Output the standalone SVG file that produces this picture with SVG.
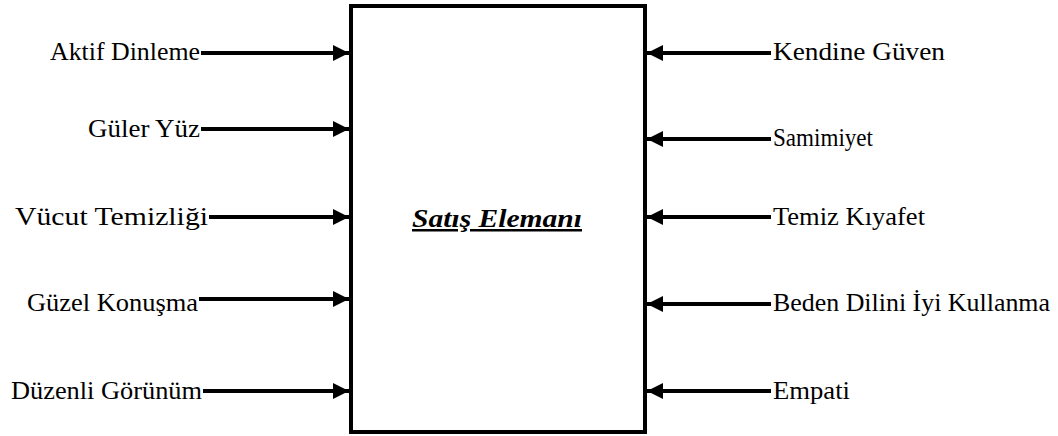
<svg xmlns="http://www.w3.org/2000/svg" width="1058" height="436" viewBox="0 0 1058 436">
<defs>
<style>
.lbl{font-family:"Times New Roman",Times,"Liberation Serif",Tinos,"Noto Serif","DejaVu Serif",FreeSerif,serif;font-size:25px;fill:#000}
.conn{stroke:#000;stroke-width:4;fill:none}
.title{font-family:"Times New Roman",Times,"Liberation Serif",Tinos,"Noto Serif","DejaVu Serif",FreeSerif,serif;font-size:25px;font-weight:bold;font-style:italic;text-decoration:underline;fill:#000}
</style>
<marker id="ah" markerUnits="userSpaceOnUse" markerWidth="16" markerHeight="16" viewBox="0 0 14 14" refX="14" refY="7" orient="auto">
<path d="M0,0 L14,7 L0,14 Z" fill="#000"/>
</marker>
</defs>
<rect width="1058" height="436" fill="#fff"/>
<g id="box">
<rect x="351" y="6" width="294" height="426" fill="#fff" stroke="#000" stroke-width="4"/>
<text class="title" x="497" y="227" text-anchor="middle" textLength="170" lengthAdjust="spacingAndGlyphs">Satış Elemanı</text>
</g>
<g id="connectors">
<line class="conn" x1="201" y1="53" x2="349" y2="53" marker-end="url(#ah)"/>
<line class="conn" x1="201" y1="129" x2="349" y2="129" marker-end="url(#ah)"/>
<line class="conn" x1="209" y1="217" x2="349" y2="217" marker-end="url(#ah)"/>
<line class="conn" x1="199" y1="299" x2="349" y2="299" marker-end="url(#ah)"/>
<line class="conn" x1="203" y1="391" x2="349" y2="391" marker-end="url(#ah)"/>
<line class="conn" x1="771" y1="53" x2="647" y2="53" marker-end="url(#ah)"/>
<line class="conn" x1="771" y1="139" x2="647" y2="139" marker-end="url(#ah)"/>
<line class="conn" x1="771" y1="217" x2="647" y2="217" marker-end="url(#ah)"/>
<line class="conn" x1="771" y1="304" x2="647" y2="304" marker-end="url(#ah)"/>
<line class="conn" x1="771" y1="391" x2="647" y2="391" marker-end="url(#ah)"/>
</g>
<g id="n-aktif"><text class="lbl" x="50" y="60" textLength="150" lengthAdjust="spacingAndGlyphs">Aktif Dinleme</text></g>
<g id="n-guler"><text class="lbl" x="88" y="137" textLength="112" lengthAdjust="spacingAndGlyphs">Güler Yüz</text></g>
<g id="n-vucut"><text class="lbl" x="15" y="225" textLength="193" lengthAdjust="spacingAndGlyphs">Vücut Temizliği</text></g>
<g id="n-guzel"><text class="lbl" x="27" y="311" textLength="171" lengthAdjust="spacingAndGlyphs">Güzel Konuşma</text></g>
<g id="n-duzenli"><text class="lbl" x="11" y="399" textLength="191" lengthAdjust="spacingAndGlyphs">Düzenli Görünüm</text></g>
<g id="n-kendine"><text class="lbl" x="773" y="60" textLength="172" lengthAdjust="spacingAndGlyphs">Kendine Güven</text></g>
<g id="n-samimiyet"><text class="lbl" x="773" y="146" textLength="100" lengthAdjust="spacingAndGlyphs">Samimiyet</text></g>
<g id="n-temiz"><text class="lbl" x="773" y="225" textLength="152" lengthAdjust="spacingAndGlyphs">Temiz Kıyafet</text></g>
<g id="n-beden"><text class="lbl" x="773" y="311" textLength="277" lengthAdjust="spacingAndGlyphs">Beden Dilini İyi Kullanma</text></g>
<g id="n-empati"><text class="lbl" x="773" y="399" textLength="77" lengthAdjust="spacingAndGlyphs">Empati</text></g>
</svg>
